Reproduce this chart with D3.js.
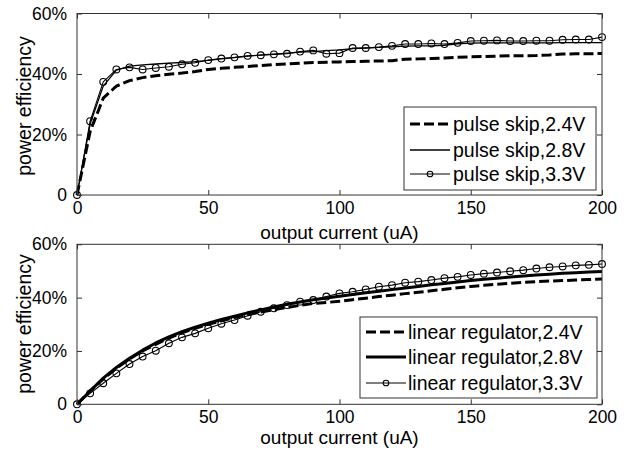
<!DOCTYPE html>
<html>
<head>
<meta charset="utf-8">
<script src="https://cdn.jsdelivr.net/npm/d3@7"></script>
<style>
  html, body { margin: 0; padding: 0; background: #fff; }
  svg { display: block; font-family: "Liberation Sans", Arial, sans-serif; }
</style>
</head>
<body>
<svg id="chart" width="629" height="450"></svg>
<script>
// Output current (uA), sampled every 5 uA
const current = d3.range(0, 201, 5);

// Pulse-skip converter efficiency (%)
const pulseSkip24 = [0, 21, 32, 36, 37.8, 38.8, 39.4, 39.9, 40.3, 40.8, 41.5, 41.9, 42.2, 42.5, 42.8, 43.1, 43.3, 43.6, 43.8, 43.9, 44.0, 44.1, 44.2, 44.3, 44.4, 44.9, 45.0, 45.1, 45.3, 45.5, 45.7, 45.8, 45.9, 46.0, 46.0, 46.1, 46.3, 46.6, 46.7, 46.7, 46.8];
const pulseSkip28 = [0, 23.5, 36, 41.3, 42.6, 43.0, 43.3, 43.6, 43.8, 44.1, 44.5, 45.0, 45.4, 45.9, 46.3, 46.6, 46.9, 47.2, 47.4, 47.7, 48.0, 48.4, 48.6, 48.8, 49.0, 49.2, 49.3, 49.3, 49.5, 50.0, 50.2, 50.3, 50.3, 50.3, 50.3, 50.3, 50.3, 50.4, 50.4, 50.4, 50.4];
const pulseSkip33 = [0, 24.4, 37.4, 41.5, 42.2, 41.5, 42.0, 42.4, 43.2, 43.7, 44.6, 45.1, 45.5, 46.0, 46.2, 46.5, 46.7, 47.4, 47.8, 46.7, 46.9, 48.6, 48.6, 48.9, 49.3, 49.9, 49.9, 50.1, 49.9, 50.3, 50.9, 51.0, 51.1, 50.9, 50.9, 51.0, 51.0, 51.3, 51.4, 51.4, 52.2];

// Linear regulator efficiency (%)
const linReg24 = [0, 5, 9.5, 13.5, 17, 20, 22.5, 24.8, 26.8, 28.5, 30, 31.3, 32.5, 33.6, 34.6, 35.5, 36.3, 37.1, 37.8, 38.2, 38.6, 39.2, 39.8, 40.4, 40.9, 41.5, 42.0, 42.6, 43.1, 43.7, 44.2, 44.6, 45.0, 45.4, 45.7, 46.0, 46.2, 46.4, 46.6, 46.8, 47.0];
const linReg28 = [0, 5, 9.8, 13.8, 17.3, 20.3, 23.0, 25.3, 27.2, 28.9, 30.4, 31.8, 33.0, 34.3, 35.4, 36.5, 37.5, 38.4, 39.2, 39.9, 40.5, 41.2, 41.8, 42.4, 43.0, 43.6, 44.2, 44.8, 45.3, 45.9, 46.4, 46.9, 47.3, 47.7, 48.1, 48.5, 48.8, 49.1, 49.3, 49.6, 49.8];
const linReg33 = [0, 4.1, 7.9, 11.6, 15.1, 17.9, 20.1, 22.9, 25.1, 26.6, 28.5, 30.2, 31.6, 33.2, 34.7, 36.0, 37.2, 38.5, 39.1, 40.4, 41.6, 42.2, 43.1, 44.1, 44.7, 45.6, 46.0, 46.6, 47.3, 47.8, 48.5, 49.0, 49.4, 49.9, 50.3, 50.9, 51.4, 51.7, 52.1, 52.3, 52.6];

// Tick values
const xTicks = [0, 50, 100, 150, 200];
const yTicks = [0, 20, 40, 60];
const yTickLabels = ["0", "20%", "40%", "60%"];

const xLabel = "output current (uA)";
const yLabel = "power efficiency";

const svg = d3.select("#chart");
const frameColor = "#333";

const styles = {
  dash:   { width: 3,   dash: "10,4", marker: false },
  thin:   { width: 1.3, dash: null,   marker: false },
  thick:  { width: 3,   dash: null,   marker: false },
  circle: { width: 1.1, dash: null,   marker: true }
};

const panels = [
  {
    top: 13.5, bottom: 195,
    series: [
      { name: "pulse skip,2.4V", values: pulseSkip24, style: "dash" },
      { name: "pulse skip,2.8V", values: pulseSkip28, style: "thin" },
      { name: "pulse skip,3.3V", values: pulseSkip33, style: "circle" }
    ],
    legend: { x: 404, y: 107, w: 192, h: 83, line0: 410, line1: 450, text: 453, rows: [124, 150, 174] },
    yLabelY: 106, xLabelY: 239
  },
  {
    top: 244.3, bottom: 404.3,
    series: [
      { name: "linear regulator,2.4V", values: linReg24, style: "dash" },
      { name: "linear regulator,2.8V", values: linReg28, style: "thick" },
      { name: "linear regulator,3.3V", values: linReg33, style: "circle" }
    ],
    legend: { x: 360, y: 317, w: 237, h: 81, line0: 366, line1: 406, text: 408, rows: [332, 357, 383] },
    yLabelY: 324, xLabelY: 444
  }
];

const left = 77, right = 602;

panels.forEach(p => {
  const x = d3.scaleLinear().domain([0, 200]).range([left, right]);
  const y = d3.scaleLinear().domain([0, 60]).range([p.bottom, p.top]);
  const g = svg.append("g");

  // plotted curves
  const line = d3.line().x((d, i) => x(current[i])).y(d => y(d));
  p.series.forEach(s => {
    const st = styles[s.style];
    g.append("path")
      .datum(s.values)
      .attr("d", line)
      .attr("fill", "none")
      .attr("stroke", "#000")
      .attr("stroke-width", st.width)
      .attr("stroke-dasharray", st.dash)
      .attr("stroke-linejoin", "round");
    if (st.marker) {
      g.selectAll(null)
        .data(s.values)
        .join("circle")
        .attr("cx", (d, i) => x(current[i]))
        .attr("cy", d => y(d))
        .attr("r", 3.4)
        .attr("fill", "none")
        .attr("stroke", "#000")
        .attr("stroke-width", 1.1);
    }
  });

  // axes with inward ticks on all sides
  const axB = g.append("g").attr("transform", `translate(0,${p.bottom})`)
    .call(d3.axisBottom(x).tickValues(xTicks).tickSizeInner(-5).tickSizeOuter(0).tickPadding(6.5));
  const axT = g.append("g").attr("transform", `translate(0,${p.top})`)
    .call(d3.axisTop(x).tickValues(xTicks).tickSizeInner(-5).tickSizeOuter(0).tickFormat(""));
  const axL = g.append("g").attr("transform", `translate(${left},0)`)
    .call(d3.axisLeft(y).tickValues(yTicks).tickSizeInner(-5).tickSizeOuter(0).tickPadding(10)
      .tickFormat((d, i) => yTickLabels[i]));
  const axR = g.append("g").attr("transform", `translate(${right},0)`)
    .call(d3.axisRight(y).tickValues(yTicks).tickSizeInner(-5).tickSizeOuter(0).tickFormat(""));

  [axB, axT, axL, axR].forEach(a => {
    a.select(".domain").remove();
    a.selectAll("line").attr("stroke", frameColor);
    a.selectAll("text").attr("fill", "#000").style("font-size", "17.5px")
      .style("font-family", "'Liberation Sans', Arial, sans-serif");
  });
  axB.selectAll("text").attr("dy", "0.71em");

  // frame
  g.append("rect")
    .attr("x", left).attr("y", p.top)
    .attr("width", right - left).attr("height", p.bottom - p.top)
    .attr("fill", "none").attr("stroke", frameColor).attr("stroke-width", 1);

  // axis titles
  g.append("text")
    .attr("x", (left + right) / 2).attr("y", p.xLabelY)
    .attr("text-anchor", "middle")
    .style("font-size", "19px")
    .text(xLabel);
  g.append("text")
    .attr("transform", `translate(31,${p.yLabelY}) rotate(-90)`)
    .attr("text-anchor", "middle")
    .style("font-size", "19.5px")
    .text(yLabel);

  // legend
  const L = p.legend;
  const lg = g.append("g");
  lg.append("rect")
    .attr("x", L.x).attr("y", L.y).attr("width", L.w).attr("height", L.h)
    .attr("fill", "#fff").attr("stroke", frameColor).attr("stroke-width", 1);
  p.series.forEach((s, i) => {
    const st = styles[s.style];
    const ry = L.rows[i];
    lg.append("line")
      .attr("x1", L.line0).attr("x2", L.line1).attr("y1", ry).attr("y2", ry)
      .attr("stroke", "#000").attr("stroke-width", st.width)
      .attr("stroke-dasharray", st.dash);
    if (st.marker) {
      lg.append("circle")
        .attr("cx", (L.line0 + L.line1) / 2).attr("cy", ry).attr("r", 2.8)
        .attr("fill", "none").attr("stroke", "#000").attr("stroke-width", 1.1);
    }
    lg.append("text")
      .attr("x", L.text).attr("y", ry).attr("dy", "0.35em")
      .style("font-size", "19.5px")
      .text(s.name);
  });
});
</script>
</body>
</html>
